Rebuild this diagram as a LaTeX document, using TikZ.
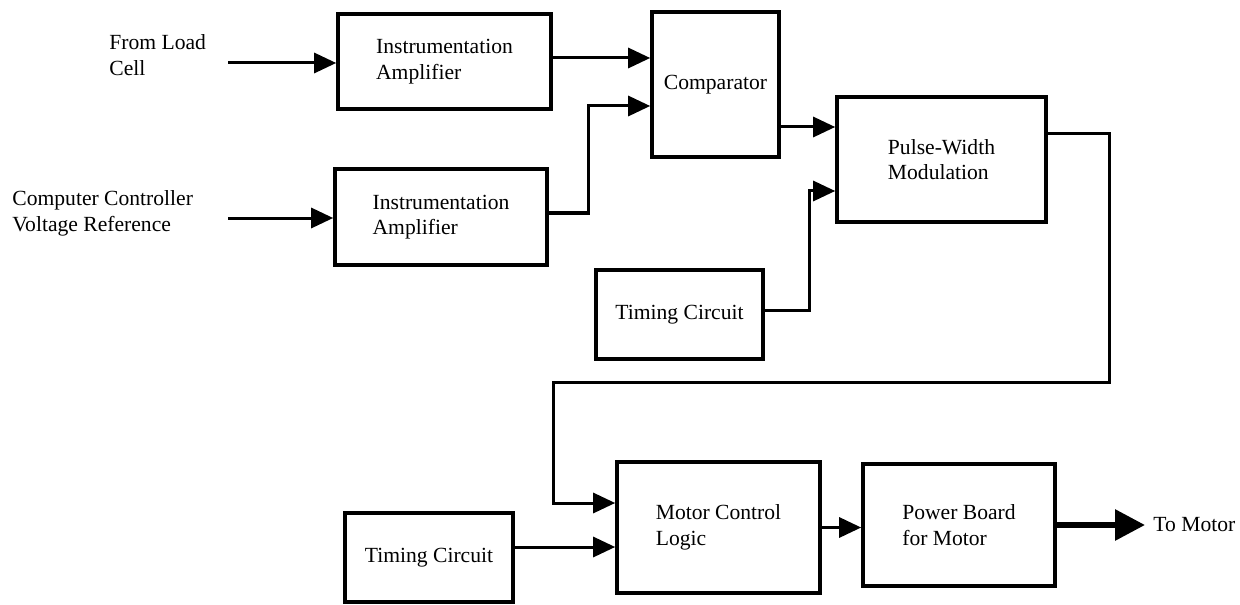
\documentclass[tikz,border=0pt]{standalone}
\usepackage{fontspec}
\setmainfont{Liberation Serif}
\usetikzlibrary{arrows.meta,positioning}

\begin{document}
\begin{tikzpicture}[
  x=0.5pt, y=-0.5pt,
  font=\fontsize{10.8pt}{12.8pt}\selectfont,
  block/.style={draw, line width=1.8pt, align=left, inner sep=3pt},
  flow/.style={-{Triangle[length=11pt,width=10pt]}, line width=1.5pt},
  bigflow/.style={-{Triangle[length=15pt,width=15pt]}, line width=3pt},
  sigtext/.style={align=left, inner sep=0pt},
]
\useasboundingbox (0,0) rectangle (1240,604);

% Input signals
\node[sigtext, anchor=west] (loadlabel) at (109,55) {From Load\\Cell};
\node[sigtext, anchor=west] (reflabel) at (12,213.5) {Computer Controller\\Voltage Reference};
\coordinate (loadin) at (228,63);
\coordinate (refin) at (228,218);

% Amplifiers and comparator
\node[block, minimum width=106.5pt, minimum height=47.5pt] (ampload) at (444.5,61.5) {Instrumentation\\Amplifier};
\node[block, minimum width=106pt, minimum height=48pt] (ampref) at (441,217) {Instrumentation\\Amplifier};
\node[block, minimum width=63.5pt, minimum height=72.5pt] (comparator) at (715.5,84.5) {Comparator};

% Modulation stage
\node[block, minimum width=104.5pt, minimum height=62.5pt] (pwm) at (941.5,159.5) {Pulse-Width\\Modulation};
\node[block, minimum width=83.5pt, minimum height=44.5pt] (timingpwm) at (679.5,314.5) {Timing Circuit};

% Motor stage
\node[block, minimum width=84pt, minimum height=44.5pt] (timingmotor) at (429,557.5) {Timing Circuit};
\node[block, minimum width=101.5pt, minimum height=65.5pt] (motorlogic) at (718.5,527.5) {Motor Control\\Logic};
\node[block, minimum width=96pt, minimum height=61pt] (powerboard) at (959,525) {Power Board\\for Motor};
\node[sigtext, anchor=west, inner sep=4pt] (motorlabel) at (1145,525) {To Motor};
\coordinate (fbturn) at (553,382);

% Top flow
\draw[flow] (loadin) -- (loadin -| ampload.west);
\draw[flow] (refin) -- (refin -| ampref.west);
\draw[flow] ([yshift=1.75pt]ampload.east) -- ([yshift=1.75pt]ampload.east -| comparator.west);
\draw[flow] ([yshift=2pt]ampref.east) -- ++(20pt,0) |- ([yshift=-10.75pt]comparator.west);
\draw[flow] ([yshift=-21.25pt]comparator.east) -- ([yshift=-21.25pt]comparator.east -| pwm.west);
\draw[flow] ([yshift=2pt]timingpwm.east) -- ++(22.5pt,0) |- ([yshift=-15.75pt]pwm.west);

% Feedback down to motor logic
\draw[flow] ([yshift=12.75pt]pwm.east) -- ++(31pt,0) |- (fbturn) |- ([yshift=12.25pt]motorlogic.west);
\draw[flow] ([yshift=5.25pt]timingmotor.east) -- ([yshift=5.25pt]timingmotor.east -| motorlogic.west);
\draw[flow] (motorlogic.east) -- (motorlogic.east -| powerboard.west);
\draw[bigflow] (powerboard.east) -- (motorlabel.west);

\end{tikzpicture}
\end{document}
